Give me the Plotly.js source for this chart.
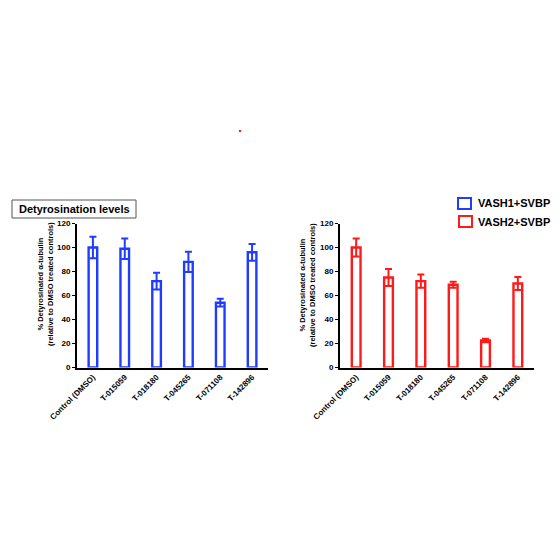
<!DOCTYPE html>
<html><head><meta charset="utf-8">
<script src="https://cdn.plot.ly/plotly-3.0.1.min.js"></script>
<style>html,body{margin:0;padding:0;background:#fff}#chart{width:560px;height:560px}</style>
</head><body><div id="chart"></div>
<script>
const categories = ['Control (DMSO)','T-015059','T-018180','T-045265','T-071108','T-142896'];
const vash1Values = [100, 99, 72, 88, 54, 96];
const vash1Errors = [9, 8.5, 7, 8.5, 3.2, 7];
const vash2Values = [100, 75, 72, 69, 22.5, 70];
const vash2Errors = [7.5, 7, 5.5, 2.5, 1.5, 5.5];
const seriesNames = ['VASH1+SVBP','VASH2+SVBP'];
const seriesColors = ['#1f3cff','#ff1a1a'];
const yTicks = [0,20,40,60,80,100,120];
const panelTitle = 'Detyrosination levels';
const yTitleLines = ['% Detyrosinated α-tubulin','(relative to DMSO treated controls)'];

const W = 560, H = 560;
const px = v => v / W;
const py = v => 1 - v / H;
const FONT = 'Arial, "Liberation Sans", sans-serif';

function barTrace(vals, errs, name, color, xa, ya) {
  return {
    type: 'bar', x: categories, y: vals, name: name,
    xaxis: xa, yaxis: ya, width: 0.27,
    marker: {color: 'rgba(255,255,255,0)', line: {color: color, width: 2.4}},
    error_y: {type: 'data', array: errs, visible: true, color: color, thickness: 2, width: 3.5},
    hoverinfo: 'skip'
  };
}

const data = [
  barTrace(vash1Values, vash1Errors, seriesNames[0], seriesColors[0], 'x', 'y'),
  barTrace(vash2Values, vash2Errors, seriesNames[1], seriesColors[1], 'x2', 'y2')
];

function xAxis(dom, anchor) {
  return {
    domain: dom, anchor: anchor, type: 'category', range: [-0.5, 5.5],
    showline: true, linecolor: '#000', linewidth: 2, ticks: '', showgrid: false, zeroline: false,
    tickangle: -45, tickfont: {family: FONT, size: 8, weight: 'bold', color: '#000'}, fixedrange: true
  };
}
function yAxis(anchor) {
  return {
    domain: [py(367.5), py(223.5)], anchor: anchor, range: [0, 120], tickvals: yTicks,
    showline: true, linecolor: '#000', linewidth: 2, ticks: 'outside', ticklen: 3, tickwidth: 1.5, tickcolor: '#000',
    showgrid: false, zeroline: false,
    tickfont: {family: FONT, size: 8, weight: 'bold', color: '#000'}, fixedrange: true
  };
}

const yTitleText = yTitleLines.join('<br>');
const annotations = [
  {xref: 'paper', yref: 'paper', x: px(74), y: py(209), text: panelTitle, showarrow: false,
   xanchor: 'center', yanchor: 'middle', font: {family: FONT, size: 11, weight: 'bold', color: '#000'}},
  {xref: 'paper', yref: 'paper', x: px(45), y: py(284), text: yTitleText, showarrow: false, textangle: -90,
   xanchor: 'center', yanchor: 'middle', font: {family: FONT, size: 7.5, weight: 'bold', color: '#000'}},
  {xref: 'paper', yref: 'paper', x: px(307), y: py(285), text: yTitleText, showarrow: false, textangle: -90,
   xanchor: 'center', yanchor: 'middle', font: {family: FONT, size: 7.5, weight: 'bold', color: '#000'}},
  {xref: 'paper', yref: 'paper', x: px(476), y: py(203.5), text: seriesNames[0], showarrow: false,
   xanchor: 'left', yanchor: 'middle', font: {family: FONT, size: 11, weight: 'bold', color: '#000'}},
  {xref: 'paper', yref: 'paper', x: px(476), y: py(221.5), text: seriesNames[1], showarrow: false,
   xanchor: 'left', yanchor: 'middle', font: {family: FONT, size: 11, weight: 'bold', color: '#000'}}
];

const shapes = [
  {type: 'rect', xref: 'paper', yref: 'paper', x0: px(12), x1: px(136), y0: py(218), y1: py(200),
   line: {color: '#555', width: 1}, fillcolor: 'rgba(0,0,0,0)'},
  {type: 'rect', xref: 'paper', yref: 'paper', x0: px(458), x1: px(471), y0: py(209), y1: py(198),
   line: {color: seriesColors[0], width: 2}, fillcolor: 'rgba(0,0,0,0)'},
  {type: 'rect', xref: 'paper', yref: 'paper', x0: px(459), x1: px(472), y0: py(227), y1: py(216),
   line: {color: seriesColors[1], width: 2}, fillcolor: 'rgba(0,0,0,0)'},
  {type: 'circle', xref: 'paper', yref: 'paper', x0: px(238.8), x1: px(241.2), y0: py(132.2), y1: py(129.8),
   line: {width: 0}, fillcolor: '#ff2020'}
];

const layout = {
  width: W, height: H, margin: {l: 0, r: 0, t: 0, b: 0},
  paper_bgcolor: '#fff', plot_bgcolor: 'rgba(0,0,0,0)', showlegend: false,
  xaxis: xAxis([px(77), px(268)], 'y'),
  yaxis: yAxis('x'),
  xaxis2: xAxis([px(340), px(534)], 'y2'),
  yaxis2: yAxis('x2'),
  annotations: annotations, shapes: shapes,
  font: {family: FONT}
};

Plotly.newPlot('chart', data, layout, {displayModeBar: false, staticPlot: true});
</script></body></html>
